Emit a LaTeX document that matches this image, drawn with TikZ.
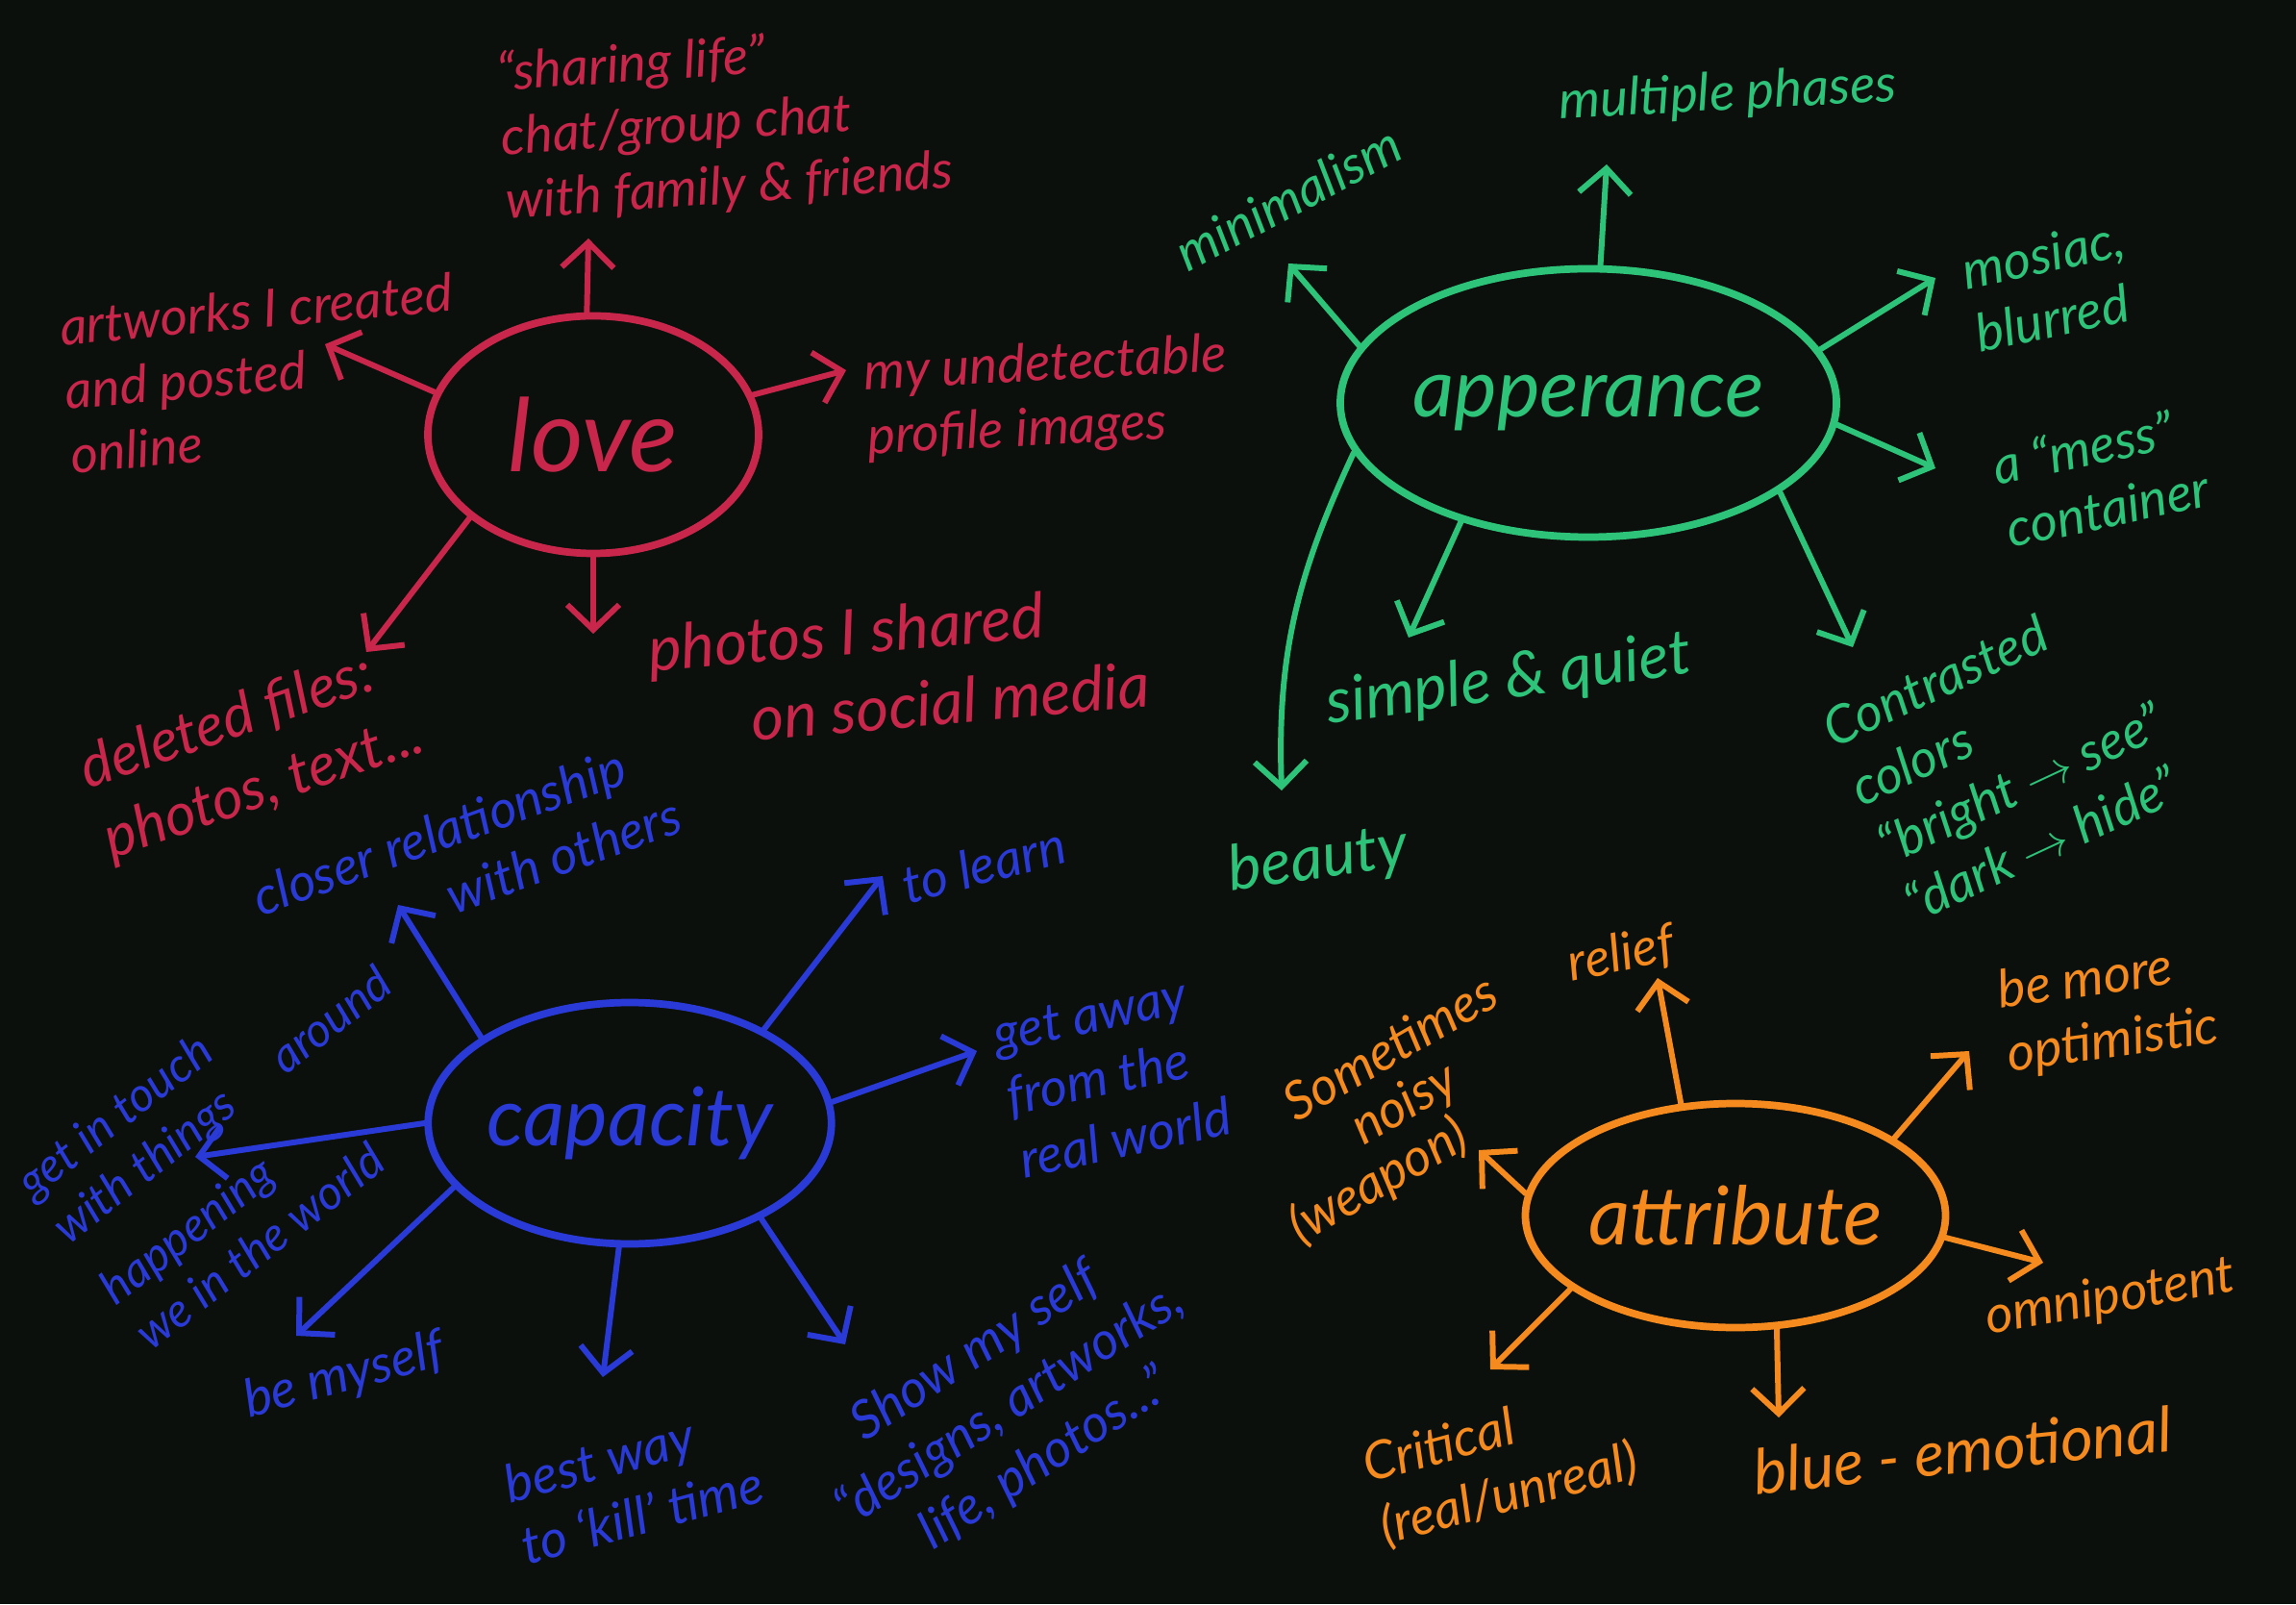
\documentclass[tikz,border=0pt]{standalone}
\usepackage{fontspec}
\setmainfont{Lato}
\usetikzlibrary{shapes.geometric,arrows.meta}
\definecolor{board}{HTML}{0C100C}
\definecolor{lovered}{HTML}{C8264A}
\definecolor{looksgreen}{HTML}{2DC47A}
\definecolor{capblue}{HTML}{2A3AD6}
\definecolor{attrorange}{HTML}{F58A1F}
\begin{document}
\begin{tikzpicture}[line cap=round,line join=round,
  hub/.style={draw,ellipse,line width=2.2pt,inner sep=0pt,font=\itshape\fontsize{24}{28}\selectfont},
  lbl/.style={inner sep=1pt,align=center,font=\itshape\fontsize{15.5}{19}\selectfont},
  biglbl/.style={lbl,font=\itshape\fontsize{18.5}{23}\selectfont},
  arr/.style={line width=1.7pt,-{Straight Barb[length=2.6mm,width=5.4mm]}}]
  \useasboundingbox (0,0) rectangle (23.88,16.68);
  \fill[board] (0,0) rectangle (23.88,16.68);

  \begin{scope}[lovered]
  \node[hub,minimum width=3.44cm,minimum height=2.47cm,font=\itshape\fontsize{30}{34}\selectfont] (love) at (6.17,12.16) {love};
  \node[lbl,align=left,rotate=4] (share) at (7.54,15.39) {“sharing life”\\chat/group chat\\with family \& friends};
  \node[lbl,align=left,rotate=5] (art) at (2.72,12.80) {artworks I created\\and posted\\online};
  \node[lbl,align=left,rotate=3] (undet) at (10.89,12.54) {my undetectable\\profile images};
  \node[lbl,align=left,rotate=19,font=\itshape\fontsize{17.5}{22}\selectfont] (deleted) at (2.62,8.84) {deleted files:\\photos, text...};
  \node[biglbl,align=left,rotate=5] (shared) at (9.35,9.75) {photos I shared\\\hspace*{1cm}on social media};
  \coordinate (love-up) at (6.12,14.20);
  \coordinate (love-lt) at (3.38,13.10);
  \coordinate (love-rt) at (8.80,12.83);
  \coordinate (love-dl) at (3.81,9.90);
  \coordinate (love-dn) at (6.17,10.09);
  \draw[arr] (love.93) -- (love-up);
  \draw[arr] (love.165) -- (love-lt);
  \draw[arr] (love.14) -- (love-rt);
  \draw[arr] (love.214) -- (love-dl);
  \draw[arr] (love.270) -- (love-dn);
  \end{scope}

  \begin{scope}[looksgreen]
  \node[hub,minimum width=4.72cm,minimum height=2.79cm] (looks) at (16.52,12.49) {apperance};
  \node[lbl,rotate=28] (minim) at (13.40,14.62) {minimalism};
  \node[lbl,rotate=3] (phases) at (17.97,15.69) {multiple phases};
  \node[lbl,align=left,rotate=12] (mosaic) at (21.32,13.71) {mosiac,\\blurred};
  \node[lbl,align=left,rotate=12] (mess) at (21.85,11.73) {a “mess”\\container};
  \node[biglbl,rotate=8] (quiet) at (15.69,9.60) {simple \& quiet};
  \node[biglbl,rotate=8] (beauty) at (13.71,7.73) {beauty};
  \node[lbl,align=left,rotate=25] (contrast) at (20.87,8.84) {Contrasted\\colors\\“bright $\rightarrow$ see”\\“dark $\rightarrow$ hide”};
  \coordinate (looks-ul) at (13.40,13.94);
  \coordinate (looks-up) at (16.71,14.97);
  \coordinate (looks-ur) at (20.13,13.79);
  \coordinate (looks-rt) at (20.13,11.81);
  \coordinate (looks-dr) at (19.27,9.95);
  \coordinate (looks-dn) at (14.65,10.05);
  \coordinate (looks-bt) at (13.33,8.46);
  \draw[arr] (looks.166) -- (looks-ul);
  \draw[arr] (looks.85) -- (looks-up);
  \draw[arr] (looks.13) -- (looks-ur);
  \draw[arr] (looks.355) -- (looks-rt);
  \draw[arr] (looks.335) -- (looks-dr);
  \draw[arr] (looks.223) -- (looks-dn);
  \draw[arr] (looks.192) to[out=245,in=92] (looks-bt);
  \end{scope}

  \begin{scope}[capblue]
  \node[hub,minimum width=4.19cm,minimum height=2.51cm] (cap) at (6.55,5.00) {capacity};
  \node[lbl,align=left,rotate=20] (closer) at (4.85,7.78) {closer relationship\\\hspace*{1.9cm}with others};
  \node[lbl,rotate=15] (learn) at (10.23,7.69) {to learn};
  \node[lbl,align=left,rotate=12] (away) at (11.57,5.49) {get away\\from the\\real world};
  \node[lbl,align=left,rotate=38,font=\itshape\fontsize{14}{17}\selectfont] (touch) at (2.55,4.88) {get in touch\\with things \quad around\\[6pt]happening\\we in the world};
  \node[lbl,rotate=15] (myself) at (3.58,2.36) {be myself};
  \node[lbl,align=left,rotate=15] (kill) at (6.59,1.25) {best way\\to `kill' time};
  \node[lbl,rotate=33] (show) at (10.51,2.06) {Show my self\\“designs, artworks,\\life, photos...”};
  \coordinate (cap-ul) at (4.14,7.27);
  \coordinate (cap-ur) at (9.18,7.57);
  \coordinate (cap-rt) at (10.16,5.75);
  \coordinate (cap-lt) at (2.03,4.65);
  \coordinate (cap-dl) at (3.08,2.79);
  \coordinate (cap-dn) at (6.27,2.36);
  \coordinate (cap-dr) at (8.79,2.70);
  \draw[arr] (cap.150) -- (cap-ul);
  \draw[arr] (cap.35) -- (cap-ur);
  \draw[arr] (cap.6) -- (cap-rt);
  \draw[arr] (cap.180) -- (cap-lt);
  \draw[arr] (cap.200) -- (cap-dl);
  \draw[arr] (cap.265) -- (cap-dn);
  \draw[arr] (cap.324) -- (cap-dr);
  \end{scope}

  \begin{scope}[attrorange]
  \node[hub,minimum width=4.37cm,minimum height=2.33cm] (attr) at (18.05,4.04) {attribute};
  \node[lbl,rotate=12] (relief) at (16.86,6.75) {relief};
  \node[lbl,align=left,rotate=8] (optim) at (21.93,6.17) {be more\\optimistic};
  \node[lbl,align=left,rotate=30,font=\itshape\fontsize{15.5}{16}\selectfont] (noisy) at (14.50,5.12) {\hspace*{0.6cm}Sometimes\\\hspace*{1.08cm}noisy\\(weapon)};
  \node[lbl,rotate=10] (omni) at (21.95,3.18) {omnipotent};
  \node[lbl,align=left,rotate=15] (critical) at (15.61,1.45) {Critical\\(real/unreal)};
  \node[biglbl,rotate=6] (blue) at (20.41,1.60) {blue - emotional};
  \coordinate (attr-up) at (17.24,6.51);
  \coordinate (attr-ur) at (20.48,5.75);
  \coordinate (attr-lt) at (15.38,4.72);
  \coordinate (attr-rt) at (21.25,3.55);
  \coordinate (attr-dl) at (15.50,2.44);
  \coordinate (attr-dn) at (18.50,1.94);
  \draw[arr] (attr.116) -- (attr-up);
  \draw[arr] (attr.26) -- (attr-ur);
  \draw[arr] (attr.174) -- (attr-lt);
  \draw[arr] (attr.354) -- (attr-rt);
  \draw[arr] (attr.204) -- (attr-dl);
  \draw[arr] (attr.290) -- (attr-dn);
  \end{scope}
\end{tikzpicture}
\end{document}
